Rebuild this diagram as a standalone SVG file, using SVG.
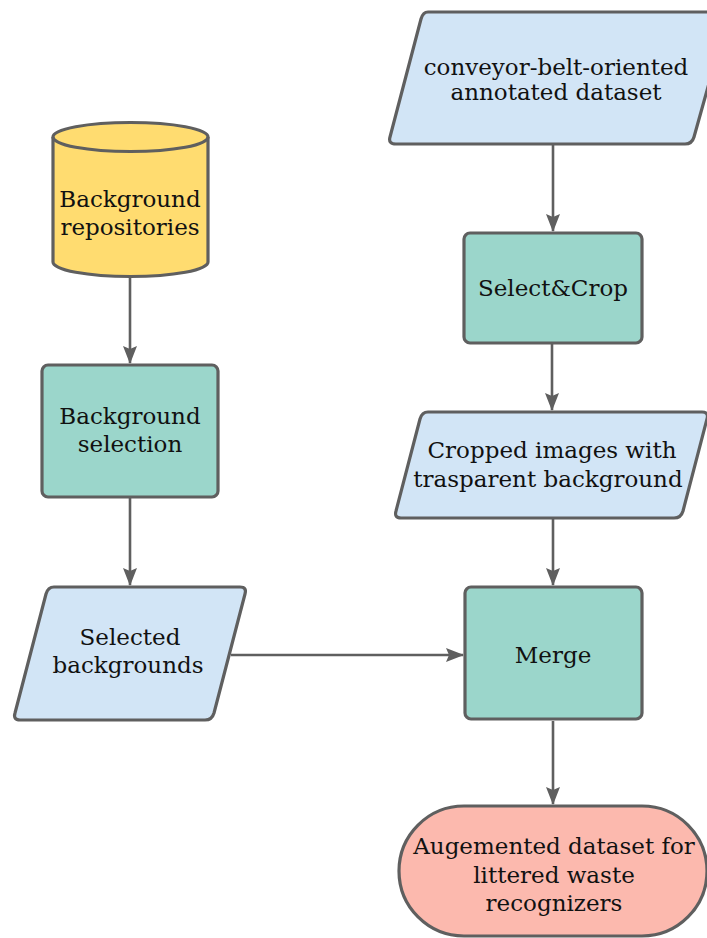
<svg xmlns="http://www.w3.org/2000/svg" width="707" height="938" viewBox="0 0 707 938">
<defs>
<style>
.n{stroke:#5f5f5f;stroke-width:3.2;stroke-linejoin:round}
.io{fill:#d2e5f6}
.proc{fill:#9bd6cb}
.db{fill:#ffdc70}
.term{fill:#fcb9ae}
text{font-family:"DejaVu Serif","Liberation Serif",serif;font-size:23px;fill:#111;text-anchor:middle}
.c{stroke:#5f5f5f;stroke-width:2.6;fill:none}
</style>
<marker id="ah" viewBox="0 0 18 14" refX="17" refY="7" markerWidth="18" markerHeight="14" markerUnits="userSpaceOnUse" orient="auto">
<path d="M0,0 L18,7 L0,14 L3,7 Z" fill="#5f5f5f"/>
</marker>
</defs>
<rect width="707" height="938" fill="#ffffff"/>
<g id="connectors">
<line class="c" x1="553" y1="145" x2="553" y2="231" marker-end="url(#ah)"/>
<line class="c" x1="552" y1="344" x2="552" y2="410" marker-end="url(#ah)"/>
<line class="c" x1="553" y1="519" x2="553" y2="585" marker-end="url(#ah)"/>
<line class="c" x1="553" y1="721" x2="553" y2="804" marker-end="url(#ah)"/>
<line class="c" x1="130" y1="278" x2="130" y2="363" marker-end="url(#ah)"/>
<line class="c" x1="130" y1="498" x2="130" y2="585" marker-end="url(#ah)"/>
<line class="c" x1="231" y1="655" x2="463" y2="655" marker-end="url(#ah)"/>
</g>
<g id="dataset">
<path class="n io" d="M428,12 L722,12 Q729,12 727,19 L694,137 Q692,144 685,144 L396,144 Q388,144 390,137 L421,19 Q423,12 428,12 Z"/>
<text x="556" y="75">conveyor-belt-oriented</text>
<text x="556" y="100">annotated dataset</text>
</g>
<g id="selectcrop">
<rect class="n proc" x="464" y="233" width="178" height="110" rx="6"/>
<text x="553" y="296">Select&amp;Crop</text>
</g>
<g id="cropped">
<path class="n io" d="M428,412 L702,412 Q709,412 707,419 L683,511 Q681,518 674,518 L401,518 Q394,518 396,511 L420,419 Q422,412 428,412 Z"/>
<text x="552" y="458">Cropped images with</text>
<text x="548" y="487">trasparent background</text>
</g>
<g id="merge">
<rect class="n proc" x="465" y="587" width="177" height="132" rx="6"/>
<text x="553" y="663">Merge</text>
</g>
<g id="augmented">
<rect class="n term" x="399" y="806" width="308" height="130" rx="65"/>
<text x="554" y="854">Augemented dataset for</text>
<text x="554" y="883">littered waste</text>
<text x="554" y="911">recognizers</text>
</g>
<g id="repositories">
<path class="n db" d="M53,137 L53,262 A77.5,14.5 0 0 0 208,262 L208,137 A77.5,14.5 0 0 0 53,137 Z"/>
<path class="n" fill="none" d="M53,137 A77.5,14.5 0 0 0 208,137"/>
<text x="130" y="207">Background</text>
<text x="130" y="235">repositories</text>
</g>
<g id="bgselection">
<rect class="n proc" x="42" y="365" width="176" height="132" rx="6"/>
<text x="130" y="424">Background</text>
<text x="130" y="452">selection</text>
</g>
<g id="selectedbg">
<path class="n io" d="M54,587 L240,587 Q247,587 245,594 L214,713 Q212,720 205,720 L20,720 Q13,720 15,713 L46,594 Q48,587 54,587 Z"/>
<text x="130" y="645">Selected</text>
<text x="128" y="673">backgrounds</text>
</g>
</svg>
